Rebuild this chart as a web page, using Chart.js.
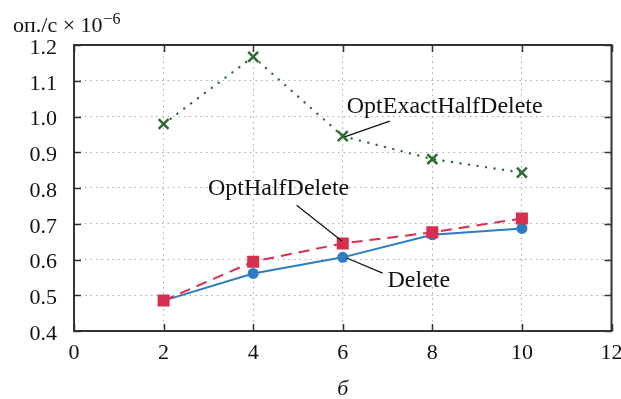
<!DOCTYPE html>
<html>
<head>
<meta charset="utf-8">
<script src="https://cdn.jsdelivr.net/npm/chart.js@4.4.1/dist/chart.umd.min.js"></script>
<style>
html,body{margin:0;padding:0;background:#fff;}
#wrap{width:621px;height:399px;position:relative;}
</style>
</head>
<body>
<div id="wrap"><canvas id="c" width="621" height="399"></canvas></div>
<script>
// ---- data ----
const threads = [2, 4, 6, 8, 10];
const deleteOps = [0.485, 0.561, 0.606, 0.669, 0.687];
const optHalfDeleteOps = [0.485, 0.594, 0.645, 0.676, 0.715];
const optExactHalfDeleteOps = [0.979, 1.167, 0.945, 0.881, 0.843];
const xTicks = [0, 2, 4, 6, 8, 10, 12];
const yTicks = [0.4, 0.5, 0.6, 0.7, 0.8, 0.9, 1.0, 1.1, 1.2];
const yUnitLabel = 'оп./с × 10';
const yUnitExp = '−6';
const panelLabel = 'б';

// annotation labels (data coordinates)
const annotations = [
  {text: 'OptExactHalfDelete', tx: 6.09, ty: 1.010, from: [7.05, 0.987], to: [6.04, 0.943]},
  {text: 'OptHalfDelete', tx: 2.99, ty: 0.780, from: [4.97, 0.752], to: [5.98, 0.652]},
  {text: 'Delete', tx: 7.00, ty: 0.523, from: [6.09, 0.604], to: [6.89, 0.562]}
];

const pts = arr => threads.map((x, i) => ({x: x, y: arr[i]}));
const SERIF = '"Liberation Serif", "Times New Roman", serif';

const framePlugin = {
  id: 'frame',
  afterDatasetsDraw(chart) {
    const {ctx, chartArea: a, scales: {x, y}} = chart;
    ctx.save();
    // inward ticks
    ctx.strokeStyle = '#333';
    ctx.lineWidth = 1.5;
    const tl = 7;
    ctx.beginPath();
    xTicks.forEach(v => {
      const px = Math.round(x.getPixelForValue(v)) + 0.5;
      ctx.moveTo(px, a.bottom); ctx.lineTo(px, a.bottom - tl);
      ctx.moveTo(px, a.top); ctx.lineTo(px, a.top + tl);
    });
    yTicks.forEach(v => {
      const py = Math.round(y.getPixelForValue(v)) + 0.5;
      ctx.moveTo(a.left, py); ctx.lineTo(a.left + tl, py);
      ctx.moveTo(a.right, py); ctx.lineTo(a.right - tl, py);
    });
    ctx.stroke();
    // frame
    ctx.lineWidth = 2;
    ctx.strokeStyle = '#333';
    ctx.strokeRect(a.left, a.top, a.right - a.left, a.bottom - a.top);
    // annotations
    ctx.fillStyle = '#111';
    ctx.strokeStyle = '#111';
    ctx.lineWidth = 1.2;
    ctx.font = '24px ' + SERIF;
    ctx.textBaseline = 'alphabetic';
    ctx.textAlign = 'left';
    annotations.forEach(an => {
      ctx.fillText(an.text, x.getPixelForValue(an.tx), y.getPixelForValue(an.ty));
      ctx.beginPath();
      ctx.moveTo(x.getPixelForValue(an.from[0]), y.getPixelForValue(an.from[1]));
      ctx.lineTo(x.getPixelForValue(an.to[0]), y.getPixelForValue(an.to[1]));
      ctx.stroke();
    });
    // unit label
    ctx.font = '22px ' + SERIF;
    ctx.fillText(yUnitLabel, 13, 32);
    const w = ctx.measureText(yUnitLabel).width;
    ctx.font = '16px ' + SERIF;
    ctx.fillText(yUnitExp, 13 + w + 1, 24);
    // panel label
    ctx.font = 'italic 22px ' + SERIF;
    ctx.textAlign = 'center';
    ctx.fillText(panelLabel, (a.left + a.right) / 2, 395);
    ctx.restore();
  }
};

new Chart(document.getElementById('c'), {
  type: 'scatter',
  data: {
    datasets: [
      {
        label: 'OptHalfDelete',
        data: pts(optHalfDeleteOps),
        showLine: true,
        borderColor: '#d6304e',
        backgroundColor: '#d6304e',
        borderWidth: 2,
        borderDash: [11, 7],
        pointStyle: 'rect',
        pointRadius: 8.5,
        pointBorderWidth: 0,
        pointBackgroundColor: '#d6304e',
        order: 1
      },
      {
        label: 'Delete',
        data: pts(deleteOps),
        showLine: true,
        borderColor: '#2b7cc4',
        backgroundColor: '#2b7cc4',
        borderWidth: 2,
        pointStyle: 'circle',
        pointRadius: 5.5,
        pointBorderWidth: 0,
        pointBackgroundColor: '#2b7cc4',
        order: 2
      },
      {
        label: 'OptExactHalfDelete',
        data: pts(optExactHalfDeleteOps),
        showLine: true,
        borderColor: '#2f6e33',
        backgroundColor: '#2f6e33',
        borderWidth: 2.4,
        borderDash: [0.1, 8.5],
        borderCapStyle: 'round',
        pointStyle: 'crossRot',
        pointRadius: 7,
        pointBorderWidth: 2.5,
        pointBorderColor: '#2f6e33',
        order: 3
      }
    ]
  },
  options: {
    responsive: false,
    animation: false,
    events: [],
    layout: {padding: {top: 45, right: 9, left: 0, bottom: 0}},
    plugins: {legend: {display: false}, tooltip: {enabled: false}},
    scales: {
      x: {
        type: 'linear',
        min: 0, max: 12,
        afterBuildTicks: s => { s.ticks = xTicks.map(v => ({value: v})); },
        afterFit: s => { s.height = 68; s.paddingLeft = 0; s.paddingRight = 0; },
        grid: {color: '#a8a8a8', lineWidth: 1, drawTicks: false},
        border: {display: false, dash: [1.5, 4]},
        ticks: {
          padding: 9,
          color: '#111',
          font: {family: SERIF, size: 22},
          maxRotation: 0,
          autoSkip: false,
          callback: v => String(v)
        }
      },
      y: {
        type: 'linear',
        min: 0.4, max: 1.2,
        afterBuildTicks: s => { s.ticks = yTicks.map(v => ({value: v})); },
        afterFit: s => { s.width = 74; s.paddingTop = 0; s.paddingBottom = 0; },
        grid: {color: '#a8a8a8', lineWidth: 1, drawTicks: false},
        border: {display: false, dash: [1.5, 4]},
        ticks: {
          padding: 17,
          labelOffset: 3,
          color: '#111',
          font: {family: SERIF, size: 22},
          autoSkip: false,
          callback: v => Number(v).toFixed(1)
        }
      }
    }
  },
  plugins: [framePlugin]
});
</script>
</body>
</html>
